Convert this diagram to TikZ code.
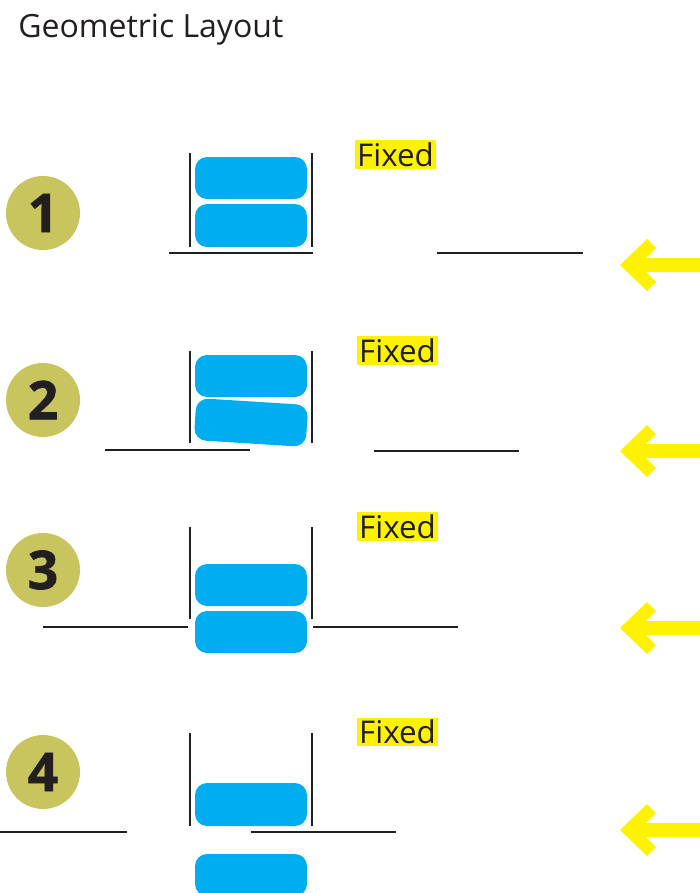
\documentclass[tikz,border=0pt]{standalone}
\usepackage{fontspec}
\setmainfont{Open Sans}
\newfontfamily\heavyfont{Open Sans}[BoldFeatures={FakeBold=1.2}]
\definecolor{inkgray}{HTML}{231F20}
\definecolor{blkblue}{HTML}{00AEEF}
\definecolor{fixyellow}{HTML}{FFF200}
\definecolor{badge}{HTML}{C8C45E}

\begin{document}
\begin{tikzpicture}[x=0.75pt, y=-0.75pt,
	floor/.style={inkgray, line width=2.2pt},
	wall/.style={inkgray, line width=2.2pt},
	blk/.style={fill=blkblue, rounded corners=9pt},
	fixlbl/.style={fill=fixyellow, text=inkgray, inner sep=1.5pt, font=\fontsize{23.5}{27}\selectfont},
	numlbl/.style={circle, fill=badge, minimum size=55.5pt, inner sep=0pt, text=inkgray, font=\fontsize{40}{44}\selectfont\heavyfont\bfseries},
	pointer/.style={fill=fixyellow}]

	\useasboundingbox (0,0) rectangle (700,893);

	\node[anchor=base west, inner sep=0pt, text=inkgray, font=\fontsize{24}{28}\selectfont] (title) at (18,37) {Geometric Layout};

	\foreach \n/\y in {1/213, 2/400, 3/570, 4/772}
		\node[numlbl] (num\n) at (43,\y) {\n};

	\foreach \n/\x/\y in {1/395.5/154.5, 2/397.5/350.5, 3/397.5/526.5, 4/397.5/732}
		\node[fixlbl] (fix\n) at (\x,\y) {Fixed};

	\foreach \c in {265, 451, 628, 830}
		\fill[pointer, shift={(620,\c)}] (0,0) -- (27,-26) -- (36,-17) -- (26,-7) -- (81,-7) -- (81,7) -- (26,7) -- (36,17) -- (27,26) -- cycle;

	\foreach \t/\b in {153/247, 351/443, 527/619, 733/826}
		\draw[wall] (190,\t) -- (190,\b) (312,\t) -- (312,\b);

	\fill[blk] (195,157) rectangle (307,199);
	\fill[blk] (195,204) rectangle (307,247);
	\fill[blk] (195,355) rectangle (307,397);
	\fill[blk, shift={(251,422.5)}, rotate=-3.6] (-56,-21) rectangle (56,21);
	\fill[blk] (195,564) rectangle (307,606);
	\fill[blk] (195,611) rectangle (307,653);
	\fill[blk] (195,783) rectangle (307,826);
	\fill[blk] (195,854) rectangle (307,896);

	\draw[floor] (169,253) -- (313,253) (437,253) -- (583,253);
	\draw[floor] (105,450) -- (250,450) (374,451) -- (519,451);
	\draw[floor] (43,627) -- (188,627) (313,627) -- (458,627);
	\draw[floor] (0,832) -- (127,832) (251,832) -- (396,832);
\end{tikzpicture}
\end{document}
